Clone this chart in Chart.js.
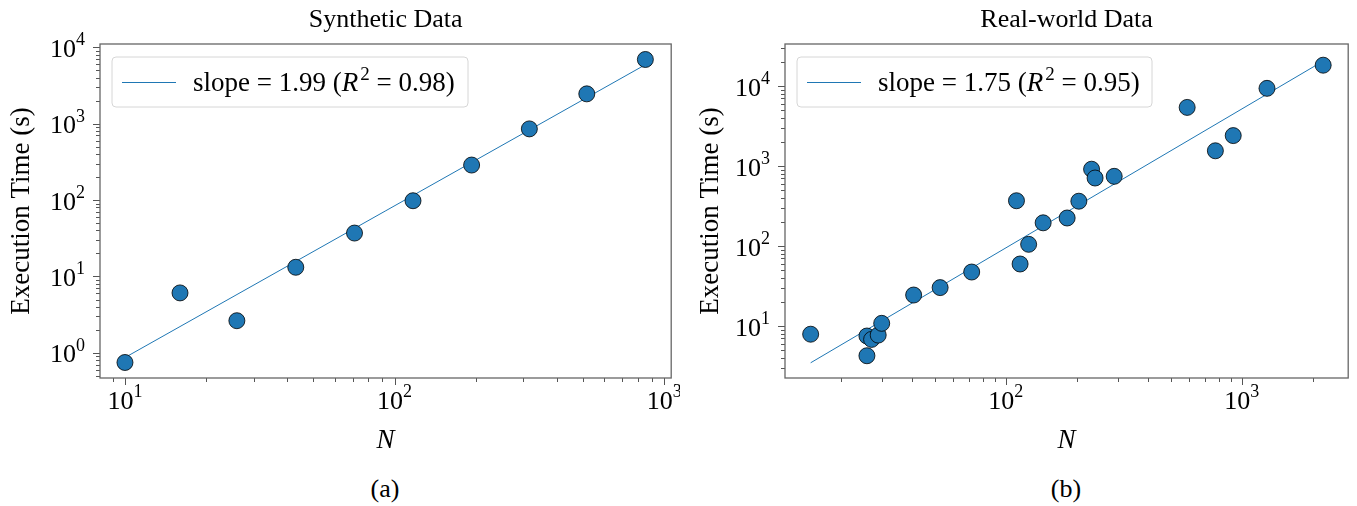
<!DOCTYPE html>
<html>
<head>
<meta charset="utf-8">
<script src="https://cdn.jsdelivr.net/npm/chart.js@4.4.1/dist/chart.umd.min.js"></script>
<style>
  body { margin: 0; background: #fff; width: 1357px; height: 506px; position: relative; overflow: hidden; }
  canvas { position: absolute; top: 0; }
  #left { left: 0; }
  #right { left: 680px; }
  .cap { position: absolute; top: 474px; font: 26px "Liberation Serif", serif; color: #000; transform: translateX(-50%); }
</style>
</head>
<body>
<canvas id="left" width="680" height="462"></canvas>
<canvas id="right" width="677" height="462"></canvas>
<div class="cap" style="left:385px">(a)</div>
<div class="cap" style="left:1066px">(b)</div>
<script>
// Synthetic data (left panel)
const synthN = [10, 16, 26, 43, 71, 117, 193, 316, 516, 851];
const synthTime = [0.75, 6.1, 2.64, 13.2, 37, 98, 287, 853, 2450, 6900];
const synthFitN = [10, 851];
const synthFitTime = [0.87, 5900];
const synthXExp = [1, 2, 3];
const synthYExp = [0, 1, 2, 3, 4];

// Real-world data (right panel)
const realN = [14.9, 25.8, 25.8, 27, 28.8, 29.8, 40.7, 52.7, 71.7, 111, 115, 125, 144, 182, 204, 231, 239, 288, 587, 773, 920, 1279, 2213];
const realTime = [7.9, 7.5, 4.25, 6.8, 7.7, 10.8, 24.4, 30.2, 47.3, 368, 59.6, 105, 195, 224, 363, 912, 708, 743, 5400, 1550, 2400, 9350, 18200];
const realFitN = [14.9, 2213];
const realFitTime = [3.47, 20500];
const realXExp = [2, 3];
const realYExp = [1, 2, 3, 4];

const SERIF = '"Liberation Serif", "Times New Roman", serif';
const BLUE = '#1f77b4';

function pts(xs, ys) {
  return xs.map((v, i) => ({ x: v, y: ys[i] }));
}

// draws title, spines, log ticks, 10^n labels and the legend box
const decoPlugin = {
  id: 'deco',
  afterDatasetsDraw(chart, args, o) {
    const { ctx, chartArea: a, scales: { x, y } } = chart;
    ctx.save();

    // panel title, centred over the plot area like matplotlib
    ctx.fillStyle = '#000';
    ctx.font = '26px ' + SERIF;
    ctx.textAlign = 'center';
    ctx.textBaseline = 'middle';
    ctx.fillText(o.title, (a.left + a.right) / 2, 20);

    ctx.strokeStyle = '#555';
    ctx.lineWidth = 1;

    const minorVals = (sc) => {
      const out = [];
      for (let d = Math.floor(Math.log10(sc.min)); d <= Math.ceil(Math.log10(sc.max)); d++) {
        for (let k = 2; k <= 9; k++) {
          const v = k * Math.pow(10, d);
          if (v > sc.min && v < sc.max) out.push(v);
        }
      }
      return out;
    };

    ctx.beginPath();
    o.xExp.forEach(e => {
      const px = Math.round(x.getPixelForValue(Math.pow(10, e))) + 0.5;
      ctx.moveTo(px, a.bottom); ctx.lineTo(px, a.bottom + 7);
    });
    minorVals(x).forEach(v => {
      const px = Math.round(x.getPixelForValue(v)) + 0.5;
      ctx.moveTo(px, a.bottom); ctx.lineTo(px, a.bottom + 4);
    });
    o.yExp.forEach(e => {
      const py = Math.round(y.getPixelForValue(Math.pow(10, e))) + 0.5;
      ctx.moveTo(a.left, py); ctx.lineTo(a.left - 7, py);
    });
    minorVals(y).forEach(v => {
      const py = Math.round(y.getPixelForValue(v)) + 0.5;
      ctx.moveTo(a.left, py); ctx.lineTo(a.left - 4, py);
    });
    ctx.stroke();

    ctx.strokeStyle = '#666';
    ctx.lineWidth = 1.3;
    ctx.strokeRect(a.left, a.top, a.right - a.left, a.bottom - a.top);

    // tick labels 10^n
    const big = '26px ' + SERIF, sup = '18px ' + SERIF;
    ctx.textBaseline = 'alphabetic';
    ctx.textAlign = 'left';
    o.xExp.forEach(e => {
      const px = x.getPixelForValue(Math.pow(10, e));
      ctx.font = big; const w1 = ctx.measureText('10').width;
      ctx.font = sup; const w2 = ctx.measureText(String(e)).width;
      const sx = px - (w1 + w2) / 2;
      ctx.font = big; ctx.fillText('10', sx, a.bottom + 30.5);
      ctx.font = sup; ctx.fillText(String(e), sx + w1, a.bottom + 19);
    });
    o.yExp.forEach(e => {
      const py = y.getPixelForValue(Math.pow(10, e));
      ctx.font = big; const w1 = ctx.measureText('10').width;
      ctx.font = sup; const w2 = ctx.measureText(String(e)).width;
      const sx = a.left - 15 - w1 - w2;
      ctx.font = big; ctx.fillText('10', sx, py + 9.5);
      ctx.font = sup; ctx.fillText(String(e), sx + w1, py - 2);
    });

    // legend
    const lx = a.left + 12, ly = a.top + 13, lw = o.legendW, lh = 50;
    ctx.beginPath();
    ctx.roundRect(lx, ly, lw, lh, 4);
    ctx.fillStyle = 'rgba(255,255,255,0.8)';
    ctx.fill();
    ctx.strokeStyle = '#d6d6d6';
    ctx.lineWidth = 1;
    ctx.stroke();
    ctx.strokeStyle = BLUE;
    ctx.beginPath();
    ctx.moveTo(lx + 10, ly + 25.5); ctx.lineTo(lx + 64, ly + 25.5);
    ctx.stroke();

    const parts = [
      ['slope = ' + o.slope.toFixed(2) + ' (', '27px ' + SERIF, 0],
      ['R', 'italic 27px ' + SERIF, 0],
      ['2', '19px ' + SERIF, -11],
      [' = ' + o.r2.toFixed(2) + ')', '27px ' + SERIF, 0]
    ];
    let tx = lx + 81;
    ctx.fillStyle = '#000';
    parts.forEach(([t, f, dy]) => {
      ctx.font = f;
      ctx.fillText(t, tx, ly + 34 + dy);
      tx += ctx.measureText(t).width + (t === 'R' ? 2 : 0);
    });
    ctx.restore();
  }
};

function makeChart(id, cfg) {
  return new Chart(document.getElementById(id), {
    type: 'scatter',
    data: {
      datasets: [
        {
          label: 'points',
          data: pts(cfg.n, cfg.t),
          pointRadius: 8,
          pointBackgroundColor: BLUE,
          pointBorderColor: '#000',
          pointBorderWidth: 0.8
        },
        {
          label: 'fit',
          type: 'line',
          data: pts(cfg.fitN, cfg.fitT),
          borderColor: BLUE,
          borderWidth: 1,
          pointRadius: 0,
          fill: false
        }
      ]
    },
    options: {
      responsive: false,
      animation: false,
      events: [],
      layout: { padding: { left: cfg.padL, right: cfg.padR, top: 44, bottom: 1 } },
      plugins: {
        legend: { display: false },
        tooltip: { enabled: false },
        deco: { title: cfg.title, xExp: cfg.xExp, yExp: cfg.yExp, slope: cfg.slope, r2: cfg.r2, legendW: cfg.legendW }
      },
      scales: {
        x: {
          type: 'logarithmic',
          min: cfg.xMin, max: cfg.xMax,
          grid: { display: false },
          border: { display: false },
          ticks: { display: false },
          title: { display: true, text: 'N', color: '#000', font: { family: SERIF, size: 27, style: 'italic' } },
          afterFit(s) { s.height = 83; }
        },
        y: {
          type: 'logarithmic',
          min: cfg.yMin, max: cfg.yMax,
          grid: { display: false },
          border: { display: false },
          ticks: { display: false },
          title: { display: true, text: 'Execution Time (s)', color: '#000', font: { family: SERIF, size: 27 } },
          afterFit(s) { s.width = cfg.yW; }
        }
      }
    },
    plugins: [decoPlugin]
  });
}

makeChart('left', {
  title: 'Synthetic Data',
  n: synthN, t: synthTime, fitN: synthFitN, fitT: synthFitTime,
  xExp: synthXExp, yExp: synthYExp,
  xMin: 8.08, xMax: 1061, yMin: 0.47, yMax: 11000,
  slope: 1.99, r2: 0.98, legendW: 356,
  padL: 2, padR: 8, yW: 98
});

makeChart('right', {
  title: 'Real-world Data',
  n: realN, t: realTime, fitN: realFitN, fitT: realFitTime,
  xExp: realXExp, yExp: realYExp,
  xMin: 11.6, xMax: 2825, yMin: 2.24, yMax: 33500,
  slope: 1.75, r2: 0.95, legendW: 355,
  padL: 11, padR: 2, yW: 94
});
</script>
</body>
</html>
